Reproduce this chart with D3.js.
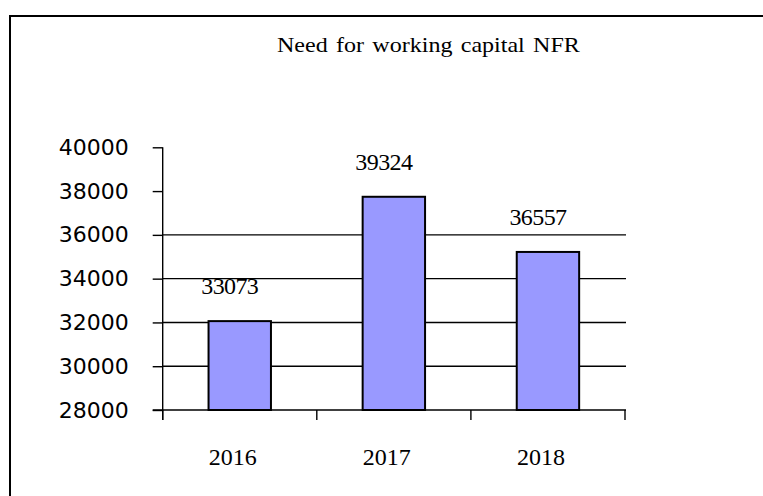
<!DOCTYPE html>
<html>
<head>
<meta charset="utf-8">
<script src="https://cdn.jsdelivr.net/npm/d3@7"></script>
<style>
  html, body { margin: 0; padding: 0; background: #fff; }
  svg { display: block; }
</style>
</head>
<body>
<svg id="chart" width="763" height="496"></svg>
<script>
// ---- data ----
const categories = ["2016", "2017", "2018"];
const barValues = [32060, 37740, 35220];          // bar heights as drawn
const valueLabels = ["33073", "39324", "36557"];  // labels printed above bars
const yTicks = [28000, 30000, 32000, 34000, 36000, 38000, 40000];
const gridTicks = [30000, 32000, 34000, 36000];
const title = "Need for working capital  NFR";

(function () {
const svg = d3.select("#chart");

// outer frame (extends past right and bottom edges)
svg.append("rect")
  .attr("x", 10).attr("y", 16)
  .attr("width", 800).attr("height", 600)
  .attr("fill", "none").attr("stroke", "#000").attr("stroke-width", 2);

const pLeft = 162.7, pRight = 626, pTop = 147.3, pBottom = 410;

const y = d3.scaleLinear().domain([28000, 40000]).range([pBottom, pTop]);
const x = d3.scaleBand().domain(categories).range([pLeft, 625]).padding(0);
const barFrac = 0.405;

// title
const t = svg.append("text")
  .attr("font-family", "'Liberation Serif', 'Times New Roman', serif")
  .attr("font-size", 21)
  .attr("word-spacing", 2)
  .attr("fill", "#000")
  .text(title);
const w = t.node().getComputedTextLength();
t.attr("transform", `translate(277,52) scale(${303 / w},1)`);

// gridlines
svg.append("g").selectAll("line").data(gridTicks).join("line")
  .attr("x1", pLeft).attr("x2", pRight)
  .attr("y1", d => y(d)).attr("y2", d => y(d))
  .attr("stroke", "#000").attr("stroke-width", 1.4);

// y axis
const yAxis = svg.append("g")
  .attr("transform", `translate(${pLeft},0)`)
  .call(d3.axisLeft(y).tickValues(yTicks).tickSize(10).tickPadding(24).tickSizeOuter(0).tickFormat(d3.format("d")));
yAxis.select(".domain").remove();
yAxis.selectAll(".tick line").attr("stroke", "#000").attr("stroke-width", 1.4);
yAxis.selectAll(".tick text")
  .attr("font-family", "'DejaVu Sans', Verdana, sans-serif")
  .attr("font-size", 22)
  .attr("fill", "#000");
svg.append("line")
  .attr("x1", pLeft).attr("x2", pLeft)
  .attr("y1", pTop).attr("y2", pBottom + 10)
  .attr("stroke", "#000").attr("stroke-width", 1.4);

// x axis line
svg.append("line")
  .attr("x1", pLeft - 10).attr("x2", pRight)
  .attr("y1", pBottom).attr("y2", pBottom)
  .attr("stroke", "#000").attr("stroke-width", 1.4);

// x boundary ticks
const boundaries = categories.map(d => x(d)).concat([x(categories[categories.length - 1]) + x.bandwidth()]);
svg.append("g").selectAll("line").data(boundaries).join("line")
  .attr("x1", d => d).attr("x2", d => d)
  .attr("y1", pBottom).attr("y2", pBottom + 10)
  .attr("stroke", "#000").attr("stroke-width", 1.4);

// x labels
const xAxis = svg.append("g")
  .attr("transform", `translate(0,${pBottom})`)
  .call(d3.axisBottom(x).tickSize(0).tickPadding(38));
xAxis.select(".domain").remove();
xAxis.selectAll(".tick text")
  .attr("x", -7)
  .attr("font-family", "'Liberation Serif', 'Times New Roman', serif")
  .attr("font-size", 24)
  .attr("fill", "#000");

// bars
const bw = x.bandwidth() * barFrac;
svg.append("g").selectAll("rect").data(categories).join("rect")
  .attr("x", d => x(d) + (x.bandwidth() - bw) / 2)
  .attr("y", (d, i) => y(barValues[i]))
  .attr("width", bw)
  .attr("height", (d, i) => y(28000) - y(barValues[i]))
  .attr("fill", "#9999ff")
  .attr("stroke", "#000")
  .attr("stroke-width", 2);

// value labels
svg.append("g").selectAll("text").data(categories).join("text")
  .attr("x", d => x(d) + x.bandwidth() / 2 - 10)
  .attr("y", (d, i) => y(barValues[i]) - 27)
  .attr("text-anchor", "middle")
  .attr("font-family", "'Liberation Serif', 'Times New Roman', serif")
  .attr("font-size", 24)
  .attr("letter-spacing", -0.6)
  .attr("fill", "#000")
  .text((d, i) => valueLabels[i]);
})();
</script>
</body>
</html>
